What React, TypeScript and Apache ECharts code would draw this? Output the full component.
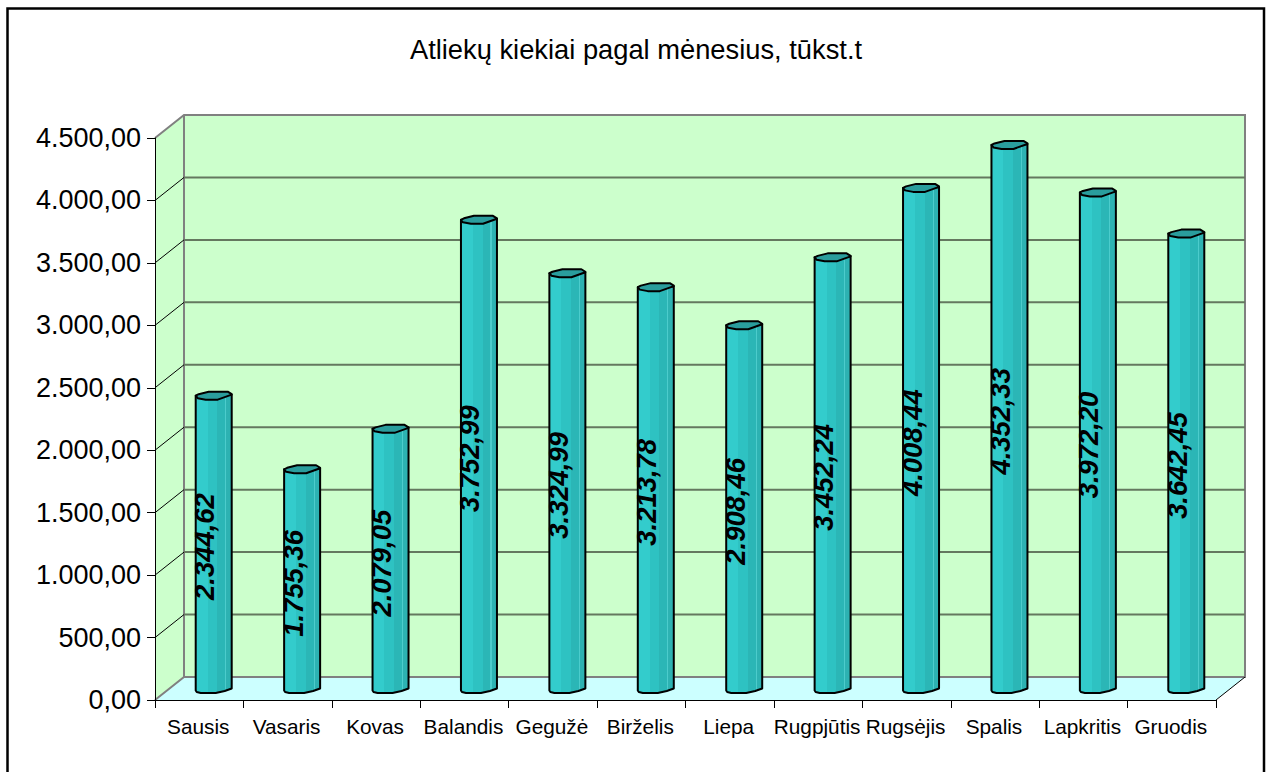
import React, { useEffect, useRef } from "react";
import * as echarts from "echarts";

const titleText = "Atliekų kiekiai pagal mėnesius, tūkst.t";
const months = ["Sausis", "Vasaris", "Kovas", "Balandis", "Gegužė", "Birželis", "Liepa", "Rugpjūtis", "Rugsėjis", "Spalis", "Lapkritis", "Gruodis"];
const wasteValues = [2344.62, 1755.36, 2079.05, 3752.99, 3324.99, 3213.78, 2908.46, 3452.24, 4008.44, 4352.33, 3972.2, 3642.45];
const gridValues = [500, 1000, 1500, 2000, 2500, 3000, 3500, 4000];

const FONT = '"Liberation Sans", Arial, sans-serif';
const DEPTH_X = 29;
const DEPTH_Y = 23;

const fmt = (v: number) => {
  const [a, b] = v.toFixed(2).split(".");
  return a.replace(/\B(?=(\d{3})+$)/g, ".") + "," + b;
};

const renderWalls = (params: any) => {
  const c = params.coordSys;
  const l = c.x, t = c.y, r = c.x + c.width, b = c.y + c.height;
  const pts = (arr: number[][]) => ({ points: arr });
  return {
    type: "group",
    children: [
      { type: "polygon", shape: pts([[l, t], [l + DEPTH_X, t - DEPTH_Y], [l + DEPTH_X, b - DEPTH_Y], [l, b]]), style: { fill: "#CCFFCC" } },
      { type: "rect", shape: { x: l + DEPTH_X, y: t - DEPTH_Y, width: c.width, height: c.height }, style: { fill: "#CCFFCC" } },
      { type: "polygon", shape: pts([[l, b], [l + DEPTH_X, b - DEPTH_Y], [r + DEPTH_X, b - DEPTH_Y], [r, b]]), style: { fill: "#CCFFFF" } },
      { type: "polyline", shape: pts([[l, t], [l + DEPTH_X, t - DEPTH_Y], [r + DEPTH_X, t - DEPTH_Y], [r + DEPTH_X, b - DEPTH_Y], [l + DEPTH_X, b - DEPTH_Y], [l, b]]), style: { fill: "none", stroke: "#808080", lineWidth: 2 } },
      { type: "line", shape: { x1: l + DEPTH_X, y1: t - DEPTH_Y, x2: l + DEPTH_X, y2: b - DEPTH_Y }, style: { stroke: "#808080", lineWidth: 2 } },
      { type: "line", shape: { x1: r, y1: b, x2: r + DEPTH_X, y2: b - DEPTH_Y }, style: { stroke: "#000", lineWidth: 1 } },
    ],
  };
};

const renderGrid = (params: any, api: any) => {
  const p = api.coord([0, api.value(0)]);
  const c = params.coordSys;
  const y = p[1];
  return {
    type: "group",
    children: [
      { type: "line", shape: { x1: c.x, y1: y, x2: c.x + DEPTH_X, y2: y - DEPTH_Y }, style: { stroke: "#000", lineWidth: 1 } },
      { type: "line", shape: { x1: c.x + DEPTH_X, y1: y - DEPTH_Y, x2: c.x + DEPTH_X + c.width, y2: y - DEPTH_Y }, style: { stroke: "#64785F", lineWidth: 2 } },
    ],
  };
};

const bodyFill = new echarts.graphic.LinearGradient(0, 0, 1, 0, [
  { offset: 0, color: "#33CCCC" },
  { offset: 0.33, color: "#33CCCC" },
  { offset: 0.33, color: "#2EC2C2" },
  { offset: 0.6, color: "#2EC2C2" },
  { offset: 0.6, color: "#2BB6B6" },
  { offset: 0.82, color: "#2BB6B6" },
  { offset: 0.82, color: "#4CCCCC" },
  { offset: 0.85, color: "#4CCCCC" },
  { offset: 0.85, color: "#2DB2B2" },
  { offset: 1, color: "#2DB2B2" },
]);

const renderColumn = (_params: any, api: any) => {
  const v = api.value(1);
  const top = api.coord([api.value(0), v]);
  const base = api.coord([api.value(0), 0]);
  const cx = top[0] + DEPTH_X / 2;
  const yT = top[1] - DEPTH_Y / 2;
  const yB = base[1] - DEPTH_Y / 2;
  const silhouette = [
    [cx - 18, yT], [cx + 18, yT - 1], [cx + 18, yB], [cx + 11, yB + 2.5], [cx + 2, yB + 4.5],
    [cx - 13, yB + 4.5], [cx - 17, yB + 3.5], [cx - 18, yB + 2],
  ];
  const face = [
    [cx - 18, yT], [cx - 15, yT - 1.5], [cx - 5, yT - 4], [cx + 14, yT - 4], [cx + 18, yT - 1.5],
    [cx + 18, yT - 1], [cx + 4, yT + 4], [cx - 8, yT + 4], [cx - 16, yT + 2.5],
  ];
  return {
    type: "group",
    children: [
      { type: "polygon", shape: { points: silhouette }, style: { fill: bodyFill, stroke: "#000", lineWidth: 2, lineJoin: "round" } },
      { type: "polygon", shape: { points: face }, style: { fill: "#2A9D9D", stroke: "#000", lineWidth: 2, lineJoin: "round" } },
      {
        type: "text",
        x: cx - 9,
        y: (top[1] + base[1]) / 2 - 7,
        rotation: Math.PI / 2,
        style: { text: fmt(v), font: `italic bold 27.4px ${FONT}`, fill: "#000", align: "center", verticalAlign: "middle" },
      },
    ],
  };
};

export default function App() {
  const ref = useRef<HTMLDivElement>(null);
  useEffect(() => {
    const chart = echarts.init(ref.current!, undefined, { renderer: "svg" });
    chart.setOption({
      animation: false,
      backgroundColor: "#FFFFFF",
      textStyle: { fontFamily: FONT },
      title: {
        text: titleText,
        left: 631,
        top: 31,
        textAlign: "center",
        textStyle: { fontFamily: FONT, fontWeight: "normal", fontSize: 27.3, color: "#000" },
      },
      graphic: [
        { type: "rect", z: -1, shape: { x: 7.5, y: 8.5, width: 1256.5, height: 790 }, style: { fill: "none", stroke: "#000", lineWidth: 2.5 } },
      ],
      grid: { left: 155, right: 55, top: 138, bottom: 72 },
      xAxis: {
        type: "category",
        data: months,
        boundaryGap: true,
        axisLine: { show: true, lineStyle: { color: "#000", width: 1 } },
        axisTick: { show: true, length: 8, inside: false, lineStyle: { color: "#000" } },
        axisLabel: { fontFamily: FONT, fontSize: 20.8, color: "#000", margin: 16, interval: 0, hideOverlap: false, padding: [0, 2, 0, 0] },
        splitLine: { show: false },
        z: 3,
      },
      yAxis: {
        type: "value",
        min: 0,
        max: 4500,
        interval: 500,
        axisLine: { show: true, lineStyle: { color: "#000", width: 1 } },
        axisTick: { show: true, length: 8, lineStyle: { color: "#000" } },
        axisLabel: { fontFamily: FONT, fontSize: 27, color: "#000", margin: 14, padding: [8, 0, 0, 0], formatter: (v: number) => fmt(v) },
        splitLine: { show: false },
        z: 3,
      },
      series: [
        { type: "custom", name: "walls", z: 1, silent: true, data: [[0]], renderItem: renderWalls, encode: { y: 0 } },
        { type: "custom", name: "grid", z: 2, silent: true, data: gridValues.map((v) => [v]), renderItem: renderGrid, encode: { y: 0 } },
        { type: "custom", name: "Atliekos", z: 4, data: wasteValues.map((v, i) => [i, v]), renderItem: renderColumn, encode: { x: 0, y: 1 } },
      ],
    });
    return () => chart.dispose();
  }, []);
  return <div ref={ref} style={{ position: "fixed", left: 0, top: 0, width: 1271, height: 772 }} />;
}
